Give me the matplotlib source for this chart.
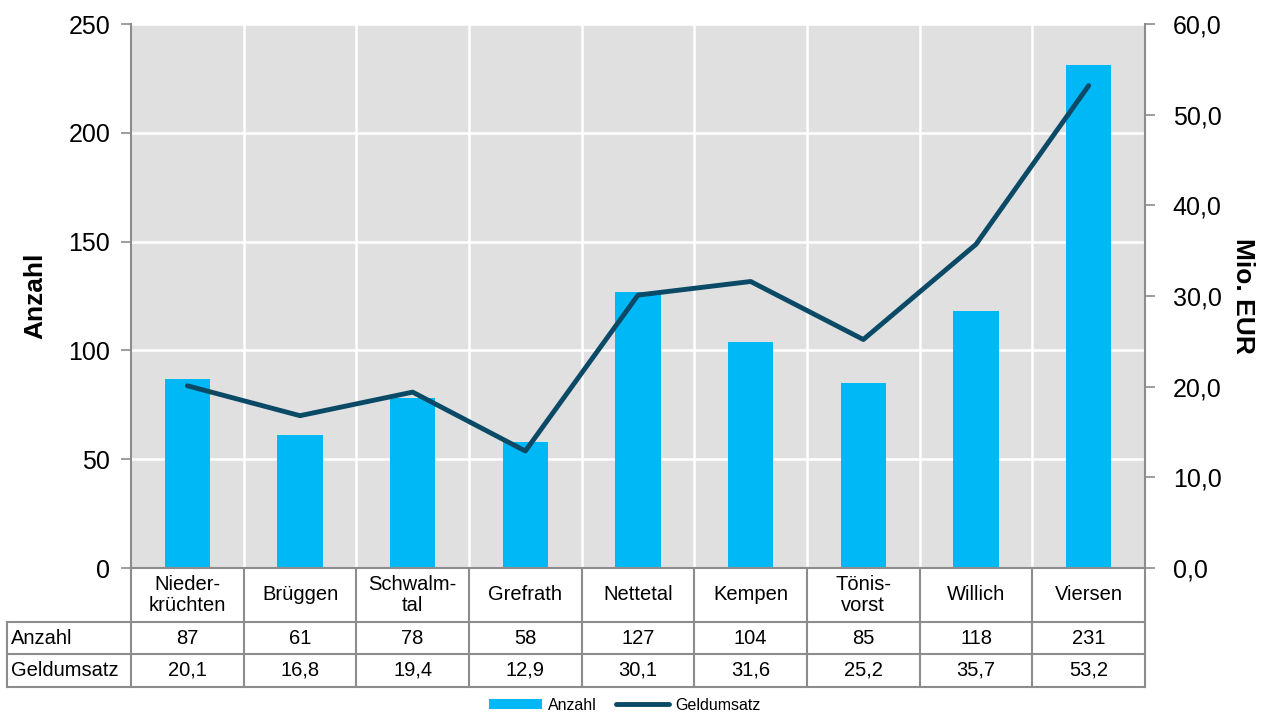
#!/usr/bin/env python3

import numpy as np
import matplotlib
matplotlib.use("Agg")
import matplotlib.pyplot as plt
from matplotlib.lines import Line2D
from matplotlib.patches import Patch

plt.rcParams["font.family"] = ["Liberation Sans", "DejaVu Sans"]

# data
orte = ["Nieder-\nkrüchten", "Brüggen", "Schwalm-\ntal", "Grefrath", "Nettetal",
        "Kempen", "Tönis-\nvorst", "Willich", "Viersen"]
anzahl = [87, 61, 78, 58, 127, 104, 85, 118, 231]
geldumsatz = [20.1, 16.8, 19.4, 12.9, 30.1, 31.6, 25.2, 35.7, 53.2]
left_ticks = [0, 50, 100, 150, 200, 250]
right_ticks = [0, 10, 20, 30, 40, 50, 60]

bar_color = "#00B8F5"
line_color = "#0A4A66"
grid_gray = "#8C8C8C"

W, H = 1266, 713


def fx(px):
    return px / W


def fy(py):
    return 1 - py / H


def main():
    fig = plt.figure(figsize=(W / 100, H / 100), dpi=100)
    ax_l, ax_r, ax_t, ax_b = 131, 1145, 24, 568
    ax = fig.add_axes([fx(ax_l), fy(ax_b), fx(ax_r - ax_l), fy(ax_t) - fy(ax_b)])
    ax.set_facecolor("#E0E0E0")

    x = np.arange(len(orte))
    ax.bar(x, anzahl, width=0.4, color=bar_color, zorder=2)
    ax.set_xlim(-0.5, len(orte) - 0.5)
    ax.set_ylim(0, 250)
    ax.set_yticks(left_ticks)
    ax.set_yticklabels([str(t) for t in left_ticks], fontsize=18)
    ax.set_xticks([])
    ax.set_xticks(x[:-1] + 0.5, minor=True)
    ax.tick_params(axis="x", which="minor", length=0)
    ax.grid(True, axis="y", color="white", lw=1.8, zorder=1)
    ax.grid(True, axis="x", which="minor", color="white", lw=1.8, zorder=1)
    ax.set_axisbelow(True)
    ax.tick_params(axis="y", direction="out", length=7, color=grid_gray, width=1.2, pad=8)
    for s in ["top", "right"]:
        ax.spines[s].set_visible(False)
    ax.spines["left"].set_color(grid_gray)
    ax.spines["left"].set_linewidth(1.5)
    ax.spines["bottom"].set_color(grid_gray)
    ax.spines["bottom"].set_linewidth(1.5)
    ax.set_ylabel("Anzahl", fontsize=19, fontweight="bold", labelpad=15)

    ax2 = ax.twinx()
    ax2.plot(x, geldumsatz, color=line_color, lw=3.5, solid_capstyle="round",
             solid_joinstyle="round", zorder=3)
    ax2.set_ylim(0, 60)
    ax2.set_yticks(right_ticks)
    ax2.set_yticklabels([f"{t:.1f}".replace(".", ",") for t in right_ticks], fontsize=18)
    ax2.tick_params(axis="y", direction="out", length=7, color=grid_gray, width=1.2, pad=13)
    for s in ["top", "left", "bottom"]:
        ax2.spines[s].set_visible(False)
    ax2.spines["right"].set_color(grid_gray)
    ax2.spines["right"].set_linewidth(1.5)
    ax2.set_ylabel("Mio. EUR", fontsize=19, fontweight="bold", rotation=-90, labelpad=24)

    # data table below the plot
    col_edges = np.linspace(ax_l, ax_r, len(orte) + 1)
    row_head = (568, 622)
    row_a = (622, 654)
    row_g = (654, 687)
    tbl_left = 7
    lkw = dict(color=grid_gray, lw=1.5, transform=fig.transFigure, clip_on=False)

    def hline(y, x0, x1):
        fig.add_artist(Line2D([fx(x0), fx(x1)], [fy(y), fy(y)], **lkw))

    def vline(xp, y0, y1):
        fig.add_artist(Line2D([fx(xp), fx(xp)], [fy(y0), fy(y1)], **lkw))

    hline(row_head[1], tbl_left, ax_r)
    hline(row_a[1], tbl_left, ax_r)
    hline(row_g[1], tbl_left, ax_r)
    vline(tbl_left, row_a[0], row_g[1])
    for e in col_edges:
        vline(e, row_head[0], row_g[1])

    tkw = dict(fontsize=14.5, ha="center", va="center", transform=fig.transFigure)
    for i, name in enumerate(orte):
        cx = (col_edges[i] + col_edges[i + 1]) / 2
        fig.text(fx(cx), fy(sum(row_head) / 2), name, linespacing=1.15, **tkw)
        fig.text(fx(cx), fy(sum(row_a) / 2), str(anzahl[i]), **tkw)
        fig.text(fx(cx), fy(sum(row_g) / 2),
                 f"{geldumsatz[i]:.1f}".replace(".", ","), **tkw)
    fig.text(fx(tbl_left + 4), fy(sum(row_a) / 2), "Anzahl", fontsize=14.5,
             ha="left", va="center")
    fig.text(fx(tbl_left + 4), fy(sum(row_g) / 2), "Geldumsatz", fontsize=14.5,
             ha="left", va="center")

    handles = [Patch(facecolor=bar_color, label="Anzahl"),
               Line2D([0], [0], color=line_color, lw=3.5, solid_capstyle="round",
                      label="Geldumsatz")]
    fig.legend(handles=handles, loc="center", bbox_to_anchor=(fx(625), fy(705)),
               ncol=2, frameon=False, fontsize=11.5, handlelength=3.3,
               handleheight=0.6, columnspacing=1.2, handletextpad=0.4)

    fig.savefig("out.png", dpi=100)


if __name__ == "__main__":
    main()
